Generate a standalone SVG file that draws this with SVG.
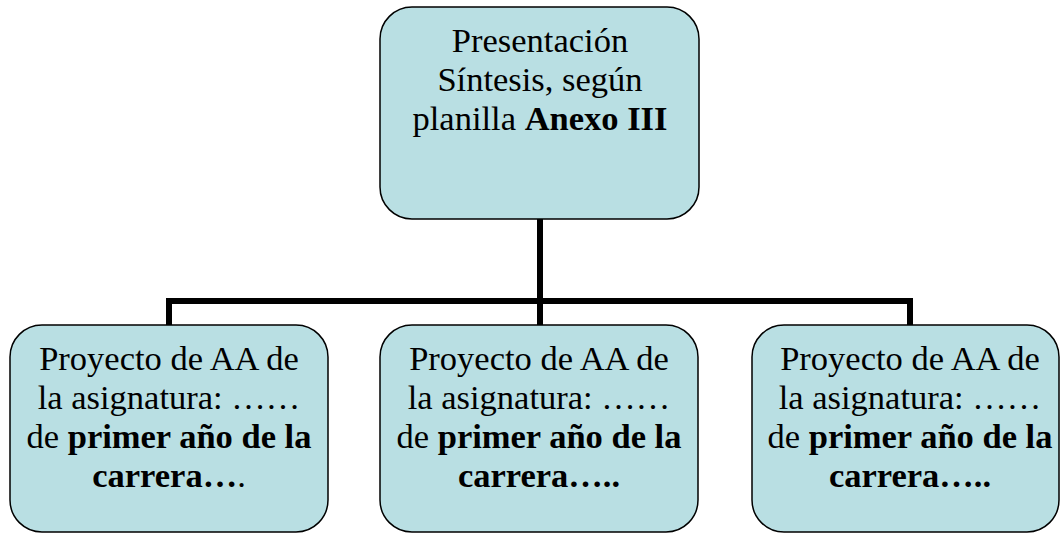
<svg xmlns="http://www.w3.org/2000/svg" width="1061" height="533" viewBox="0 0 1061 533">
<style>
.box{fill:#B9DFE3;stroke:#000;stroke-width:1.5}
.t{font-family:"Liberation Serif","Times New Roman",serif;font-size:34.5px;fill:#000;text-anchor:middle}
.b{font-weight:bold}
.conn{fill:none;stroke:#000;stroke-width:6;stroke-linejoin:miter}
</style>
<rect width="1061" height="533" fill="#fff"/>
<g id="connectors">
<path class="conn" d="M540 219 V301"/>
<path class="conn" d="M169 325 V301 H910 V325"/>
<path class="conn" d="M540 301 V325"/>
</g>
<g id="top">
<rect class="box" x="380" y="7" width="319" height="212" rx="32"/>
<text class="t" x="540" y="52">Presentación</text>
<text class="t" x="540" y="91">Síntesis, según</text>
<text class="t" x="540" y="130">planilla <tspan class="b">Anexo III</tspan></text>
</g>
<g id="left">
<rect class="box" x="10" y="325" width="318" height="207" rx="32"/>
<text class="t" x="169" y="370">Proyecto de AA de</text>
<text class="t" x="169" y="409">la asignatura: ……</text>
<text class="t" x="169" y="448">de <tspan class="b">primer año de la</tspan></text>
<text class="t" x="169" y="487"><tspan class="b">carrera…</tspan>.</text>
</g>
<g id="middle">
<rect class="box" x="380" y="325" width="318" height="207" rx="32"/>
<text class="t" x="539" y="370">Proyecto de AA de</text>
<text class="t" x="539" y="409">la asignatura: ……</text>
<text class="t" x="539" y="448">de <tspan class="b">primer año de la</tspan></text>
<text class="t b" x="539" y="487">carrera…..</text>
</g>
<g id="right">
<rect class="box" x="752" y="325" width="307" height="207" rx="32"/>
<text class="t" x="910" y="370">Proyecto de AA de</text>
<text class="t" x="910" y="409">la asignatura: ……</text>
<text class="t" x="910" y="448">de <tspan class="b">primer año de la</tspan></text>
<text class="t b" x="910" y="487">carrera…..</text>
</g>
</svg>
